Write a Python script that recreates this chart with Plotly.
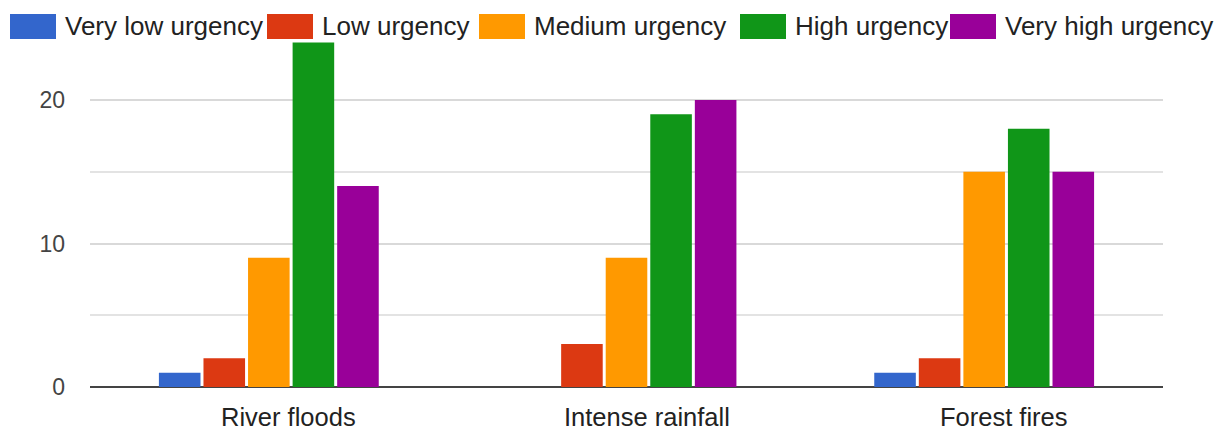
import plotly.graph_objects as go

# Survey counts per hazard type and urgency rating
hazards = ["River floods", "Intense rainfall", "Forest fires"]
urgency_levels = ["Very low urgency", "Low urgency", "Medium urgency",
                  "High urgency", "Very high urgency"]
very_low = [1, 0, 1]
low = [2, 3, 2]
medium = [9, 9, 15]
high = [24, 19, 18]
very_high = [14, 20, 15]
y_ticks = [0, 10, 20]

series = [very_low, low, medium, high, very_high]
colors = ["#3366cc", "#dc3912", "#ff9900", "#109618", "#990099"]

W, H = 1225, 430
ML, MR, MT, MB = 90, 62, 35, 43
plot_w = W - ML - MR
plot_h = H - MT - MB
y_max = 24.53

fig = go.Figure()
for name, vals, col in zip(urgency_levels, series, colors):
    fig.add_trace(go.Bar(
        name=name, x=hazards, y=vals,
        marker=dict(color=col, line=dict(width=0)),
        showlegend=False,
    ))

# Legend drawn as wide colour swatches with labels across the top
legend_left_px = [10, 267, 479, 740, 950]
sw_w, sw_top, sw_bot = 46, 14, 39


def px_x(px):
    return (px - ML) / plot_w


def px_y(py):
    return (H - MB - py) / plot_h


shapes = []
annotations = []
for name, col, left in zip(urgency_levels, colors, legend_left_px):
    shapes.append(dict(
        type="rect", xref="paper", yref="paper",
        x0=px_x(left), x1=px_x(left + sw_w),
        y0=px_y(sw_bot), y1=px_y(sw_top),
        fillcolor=col, line=dict(width=0), layer="above",
    ))
    annotations.append(dict(
        xref="paper", yref="paper",
        x=px_x(left + sw_w + 7), y=px_y(26.5),
        xanchor="left", yanchor="middle",
        text=name, showarrow=False,
        font=dict(family="Liberation Sans, Arial", size=26, color="#222222"),
    ))

# Category labels under each group, set slightly right of the group centre
for h in hazards:
    annotations.append(dict(
        xref="x", yref="y", x=h, y=0,
        xanchor="center", yanchor="top",
        xshift=20, yshift=-14,
        text=h, showarrow=False,
        font=dict(family="Liberation Sans, Arial", size=25.5, color="#222222"),
    ))

fig.update_layout(
    width=W, height=H,
    margin=dict(l=ML, r=MR, t=MT, b=MB, pad=0),
    paper_bgcolor="white", plot_bgcolor="white",
    barmode="group", bargap=0.377, bargroupgap=0.067,
    shapes=shapes, annotations=annotations,
    font=dict(family="Liberation Sans, Arial"),
    xaxis=dict(
        showgrid=False, showline=False, zeroline=False,
        ticks="", showticklabels=False, automargin=False,
    ),
    yaxis=dict(
        range=[0, y_max], tickvals=y_ticks, automargin=False,
        showgrid=True, gridcolor="#d9d9d9", gridwidth=1.5,
        minor=dict(dtick=5, tick0=0, showgrid=True, gridcolor="#e3e3e3", gridwidth=1.5),
        zeroline=True, zerolinecolor="#444444", zerolinewidth=2,
        showline=False, ticks="", ticklabelstandoff=24,
        tickfont=dict(size=23, color="#444444"),
    ),
)

fig.write_html("out.html")
